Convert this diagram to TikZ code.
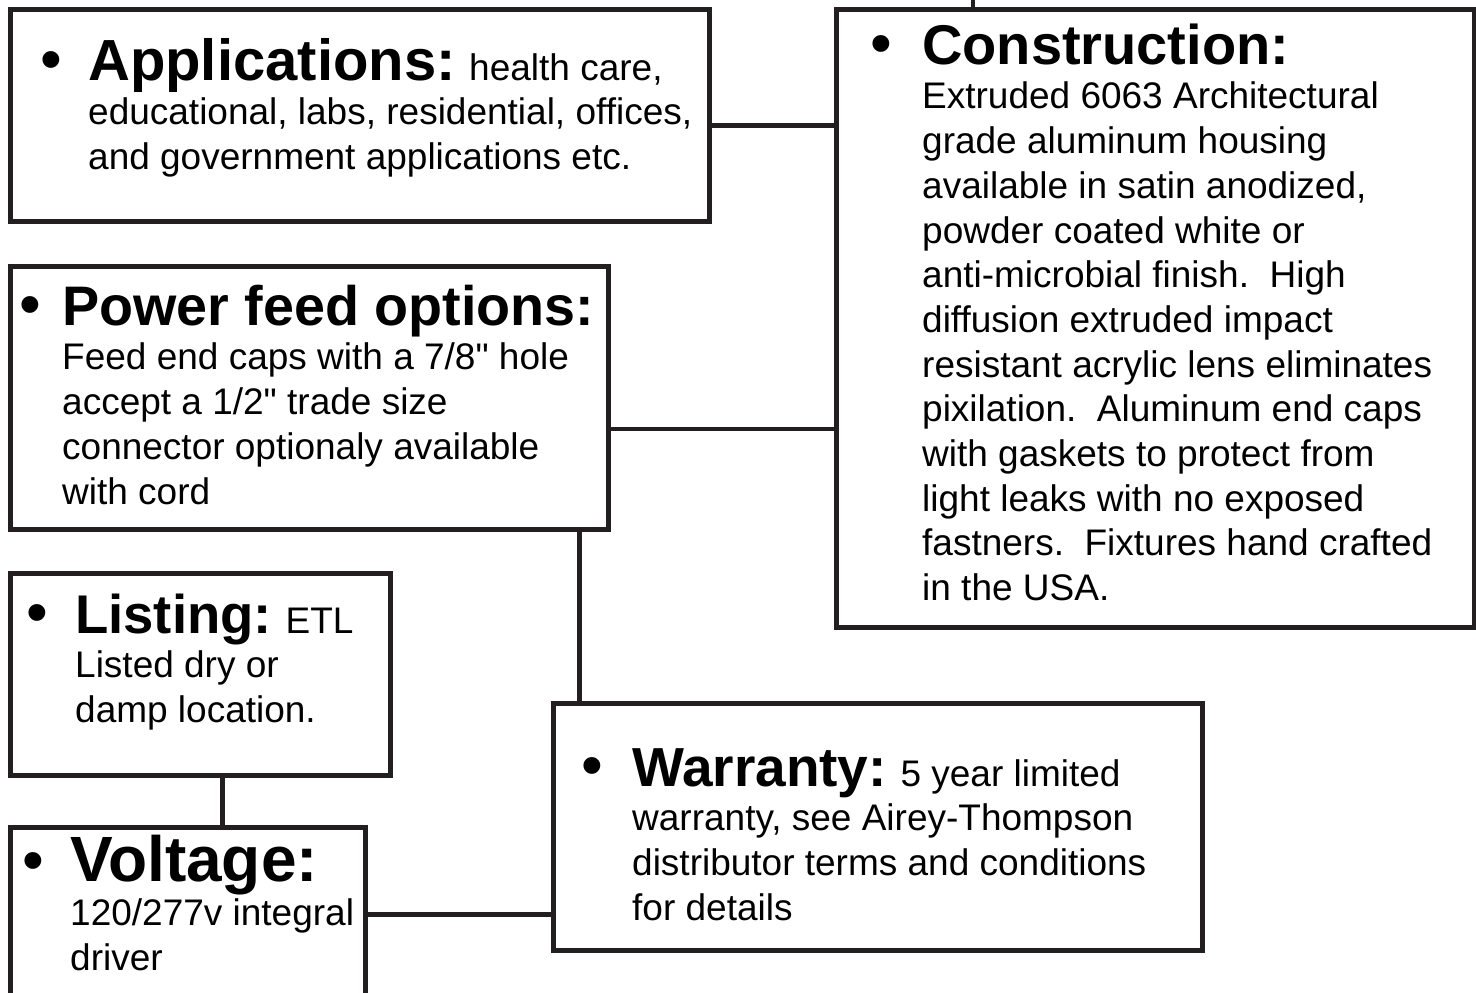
\documentclass[tikz,border=0pt]{standalone}
\usepackage{fontspec}
\newfontfamily\helv{Liberation Sans}
\definecolor{ink}{RGB}{35,31,32}
\newcommand{\hd}[2]{{\fontsize{#1}{44.7}\selectfont\bfseries #2}}
\newcommand{\st}{\rule{0pt}{50pt}}
\tikzset{
  box/.style={draw=ink, line width=4.7pt, anchor=north west, inner sep=0pt},
  txt/.style={anchor=north west, inner sep=0pt, align=left, font=\helv\fontsize{37}{44.7}\selectfont},
  dot/.style={anchor=base, inner sep=0pt, font=\helv\fontsize{62}{62}\selectfont},
  link/.style={draw=ink, line width=4.7pt},
}
\begin{document}
\begin{tikzpicture}[x=1pt,y=-1pt]
    \path[use as bounding box, clip] (0,0) rectangle (1476,993);
    % boxes
    \node[box, minimum width=699pt, minimum height=212pt] (app) at (8,7) {};
    \node[box, minimum width=638pt, minimum height=618pt] (con) at (834,7) {};
    \node[box, minimum width=598pt, minimum height=263pt] (pow) at (8,264) {};
    \node[box, minimum width=380pt, minimum height=202pt] (lis) at (8,571) {};
    \node[box, minimum width=355pt, minimum height=190pt] (vol) at (8,825) {};
    \node[box, minimum width=649pt, minimum height=247pt] (war) at (551,701) {};
    % bullets
    \node[dot] (appdot) at (51,80) {•};
    \node[dot] (condot) at (881,64) {•};
    \node[dot] (powdot) at (30,325) {•};
    \node[dot] (lisdot) at (37,633) {•};
    \node[dot] (voldot) at (33,881) {•};
    \node[dot] (wardot) at (592,786) {•};
    % texts
    \node[txt] (apptxt) at (88,30) {\st\hd{58}{Applications:} health care,\\
        educational, labs, residential, offices,\\
        and government applications etc.};
    \node[txt] (contxt) at (922,14) {\st\hd{56}{Construction:}\\
        Extruded 6063 Architectural\\
        grade aluminum housing\\
        available in satin anodized,\\
        powder coated white or\\
        anti-microbial finish.\ \ High\\
        diffusion extruded impact\\
        resistant acrylic lens eliminates\\
        pixilation.\ \ Aluminum end caps\\
        with gaskets to protect from\\
        light leaks with no exposed\\
        fastners.\ \ Fixtures hand crafted\\
        in the USA.};
    \node[txt] (powtxt) at (62,275) {\st\hd{55.7}{Power feed options:}\\
        Feed end caps with a 7/8" hole\\
        accept a 1/2" trade size\\
        connector optionaly available\\
        with cord};
    \node[txt] (listxt) at (75,583) {\st\hd{54.5}{Listing:} ETL\\
        Listed dry or\\
        damp location.};
    \node[txt] (voltxt) at (70,831) {\st\hd{64}{Voltage:}\\
        120/277v integral\\
        driver};
    \node[txt] (wartxt) at (632,736) {\st\hd{55}{Warranty:} 5 year limited\\
        warranty, see Airey-Thompson\\
        distributor terms and conditions\\
        for details};
    % connectors
    \coordinate (top) at (973,-10);
    \draw[link] (top) -- (top |- con.north);
    \draw[link] ([yshift=-10pt]app.east) -- ([yshift=-10pt]app.east -| con.west);
    \draw[link] ([yshift=-31pt]pow.east) -- ([yshift=-31pt]pow.east -| con.west);
    \draw[link] ([xshift=270pt]pow.south) -- ([xshift=270pt]pow.south |- war.north);
    \draw[link] ([xshift=22pt]lis.south) -- ([xshift=22pt]lis.south |- vol.north);
    \draw[link] ([yshift=8pt]vol.east) -- ([yshift=8pt]vol.east -| war.west);
\end{tikzpicture}
\end{document}
